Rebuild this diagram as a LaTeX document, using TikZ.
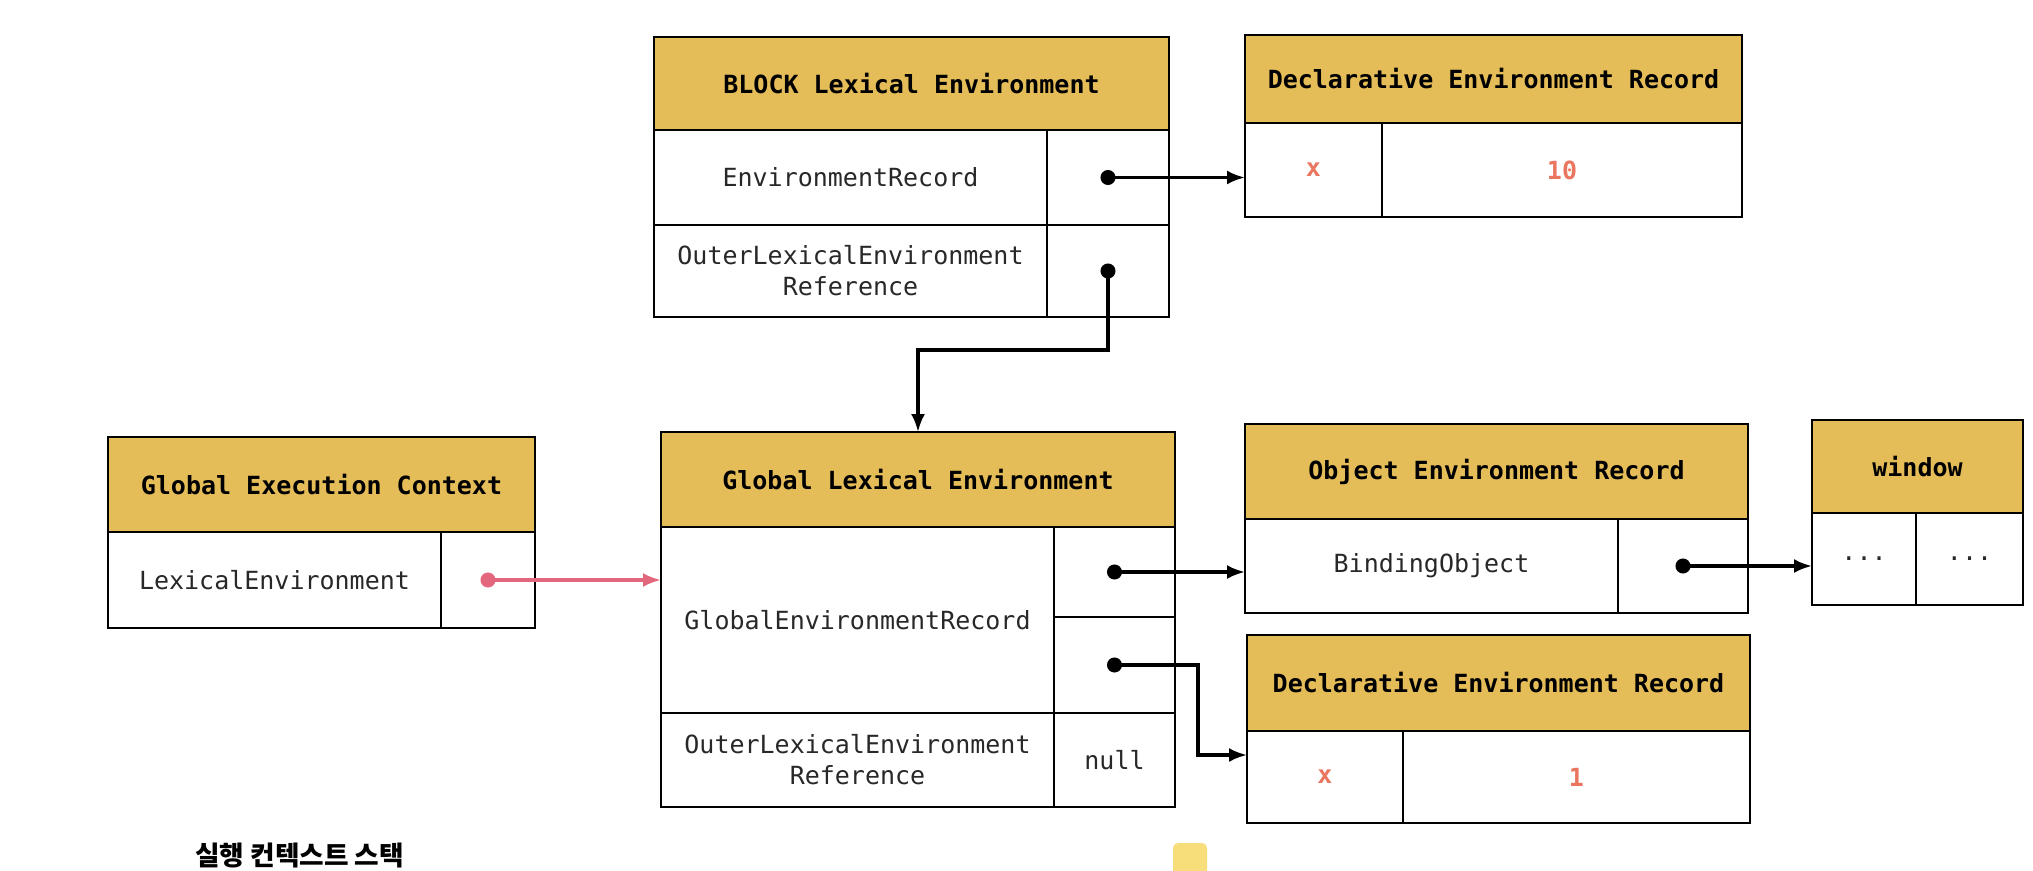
\documentclass[tikz,border=0pt]{standalone}
\usepackage{fontspec}
\setmonofont{DejaVu Sans Mono}
\newfontfamily\krfont{Noto Sans CJK KR}
\usetikzlibrary{arrows.meta}

\definecolor{hdrgold}{RGB}{229,189,88}
\definecolor{valred}{RGB}{234,118,96}
\definecolor{linkpink}{RGB}{226,102,124}
\definecolor{bodygray}{RGB}{40,40,40}
\definecolor{stackyellow}{RGB}{247,222,122}

\tikzset{
  cellbox/.style={draw=black, line width=2.4pt, inner sep=0pt, outer sep=0pt, align=center,
    font=\ttfamily\fontsize{25}{31}\selectfont, text=bodygray},
  hdrbox/.style={cellbox, fill=hdrgold, text=black, font=\ttfamily\bfseries\fontsize{25}{31}\selectfont},
  valbox/.style={cellbox, text=valred, font=\ttfamily\bfseries\fontsize{25}{31}\selectfont},
  ptr/.style={line width=3.2pt, {Circle[length=15pt]}-{Latex[length=18pt,width=14pt]}, shorten <=-7.5pt},
}

% one table cell: name, left, top, right, bottom, style, text
\newcommand{\cell}[7]{%
  \node[#6, anchor=north west, minimum width={#4-#2}, minimum height={#5-#3}] (#1) at (#2,#3) {#7};}

\begin{document}
\begin{tikzpicture}[x=1pt,y=-1pt]
    \useasboundingbox (0,0) rectangle (2033,870);
    \clip (0,0) rectangle (2033,870);
    %% block lexical environment
    \cell{blkHead}{654}{37}{1169}{130}{hdrbox}{BLOCK Lexical Environment}
    \cell{blkRec}{654}{130}{1047}{225}{cellbox}{EnvironmentRecord}
    \cell{blkRecPtr}{1047}{130}{1169}{225}{cellbox}{}
    \cell{blkOuter}{654}{225}{1047}{317}{cellbox}{OuterLexicalEnvironment\\Reference}
    \cell{blkOuterPtr}{1047}{225}{1169}{317}{cellbox}{}
    %% declarative record (block)
    \cell{declTopHead}{1245}{35}{1742}{123}{hdrbox}{Declarative Environment Record}
    \cell{declTopX}{1245}{123}{1382}{217}{valbox}{x}
    \cell{declTopVal}{1382}{123}{1742}{217}{valbox}{10}
    %% global execution context
    \cell{gecHead}{108}{437}{535}{532}{hdrbox}{Global Execution Context}
    \cell{gecLex}{108}{532}{441}{628}{cellbox}{LexicalEnvironment}
    \cell{gecPtr}{441}{532}{535}{628}{cellbox}{}
    %% global lexical environment
    \cell{gleHead}{661}{432}{1175}{527}{hdrbox}{Global Lexical Environment}
    \cell{gleRec}{661}{527}{1054}{713}{cellbox}{GlobalEnvironmentRecord}
    \cell{glePtrA}{1054}{527}{1175}{617}{cellbox}{}
    \cell{glePtrB}{1054}{617}{1175}{713}{cellbox}{}
    \cell{gleOuter}{661}{713}{1054}{807}{cellbox}{OuterLexicalEnvironment\\Reference}
    \cell{gleNull}{1054}{713}{1175}{807}{cellbox}{null}
    %% object record and window
    \cell{oerHead}{1245}{424}{1748}{519}{hdrbox}{Object Environment Record}
    \cell{oerBind}{1245}{519}{1618}{613}{cellbox}{BindingObject}
    \cell{oerPtr}{1618}{519}{1748}{613}{cellbox}{}
    \cell{winHead}{1812}{420}{2023}{513}{hdrbox}{window}
    \cell{winA}{1812}{513}{1916}{605}{cellbox}{...}
    \cell{winB}{1916}{513}{2023}{605}{cellbox}{...}
    %% declarative record (global)
    \cell{declBotHead}{1247}{635}{1750}{731}{hdrbox}{Declarative Environment Record}
    \cell{declBotX}{1247}{731}{1403}{823}{valbox}{x}
    \cell{declBotVal}{1403}{731}{1750}{823}{valbox}{1}
    %% pointers
    \draw[ptr] (blkRecPtr.center) -- (blkRecPtr.center -| declTopX.west);
    \coordinate (bendA) at (1108,350);
    \draw[ptr] (blkOuterPtr.center) -- (bendA) -| (gleHead.north);
    \draw[ptr,linkpink] (gecPtr.center) -- (gecPtr.center -| gleRec.west);
    \draw[ptr] (glePtrA.center) -- (glePtrA.center -| oerBind.west);
    \coordinate (bendB) at (1198,755);
    \draw[ptr] (glePtrB.center) -| (bendB) -- (bendB -| declBotX.west);
    \draw[ptr] (oerPtr.center) -- (oerPtr.center -| winA.west);
    %% caption at the bottom
    \node[font=\krfont\bfseries\fontsize{26.7}{30}\selectfont, anchor=base west, inner sep=0pt] (stackTitle) at (195,865) {실행 컨텍스트 스택};
    \fill[stackyellow, rounded corners=5pt] (1173,843) rectangle (1207,900);
\end{tikzpicture}
\end{document}
